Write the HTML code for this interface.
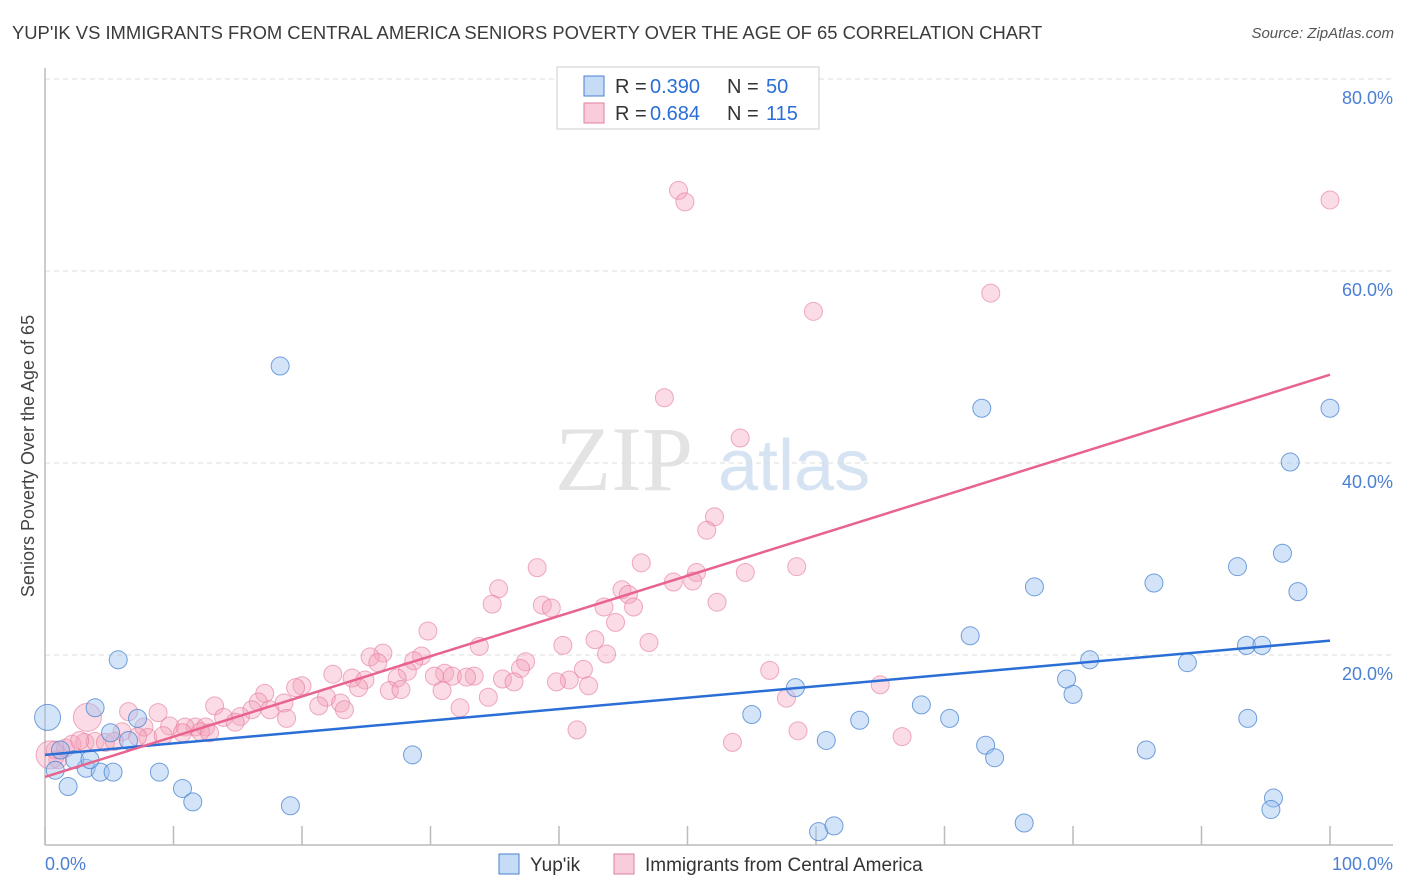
<!DOCTYPE html>
<html><head><meta charset="utf-8">
<style>
body{margin:0;background:#fff;font-family:"Liberation Sans",sans-serif;}
#wrap{position:relative;width:1406px;height:892px;overflow:hidden;}
.title{position:absolute;left:12px;top:22px;font-size:18.4px;color:#3b3b3b;}
.source{position:absolute;right:12px;top:25px;font-size:15px;color:#555;font-style:italic;}
</style></head><body>
<div id="wrap">
<div class="title">YUP'IK VS IMMIGRANTS FROM CENTRAL AMERICA SENIORS POVERTY OVER THE AGE OF 65 CORRELATION CHART</div>
<div class="source">Source: ZipAtlas.com</div>
<svg id="chart" width="1406" height="892" style="position:absolute;left:0;top:0"></svg>
</div>
<script>
const xTickVals=[0,10,20,30,40,50,60,70,80,90,100];
const yTickVals=[20,40,60,80];
const yTickLabels=["20.0%","40.0%","60.0%","80.0%"];
const xEndLabels=["0.0%","100.0%"];
const yupikX=[0.2,5.7,3.9,7.2,5.1,6.5,0.8,1.8,3.2,4.3,5.3,8.9,10.7,11.5,18.3,19.1,28.6,55.0,58.4,60.8,60.2,61.4,63.4,68.2,70.4,72.0,72.9,73.2,73.9,76.2,77.0,79.5,80.0,81.3,85.7,86.3,88.9,92.8,93.5,94.7,93.6,95.6,95.4,96.3,96.9,97.5,100,2.3,1.2,3.5];
const yupikY=[13.5,19.5,14.5,13.4,11.9,11.1,8.0,6.3,8.2,7.8,7.8,7.8,6.1,4.7,50.1,4.3,9.6,13.8,16.6,11.1,1.6,2.2,13.2,14.8,13.4,22.0,45.7,10.6,9.3,2.5,27.1,17.5,15.9,19.5,10.1,27.5,19.2,29.2,21.0,21.0,13.4,5.1,3.9,30.6,40.1,26.6,45.7,9.1,10.1,9.1];
const immX=[49.3,49.8,100,73.6,59.8,48.2,54.1,52.1,51.5,46.4,38.3,58.5,54.5,50.7,48.9,50.4,35.3,44.9,45.4,34.8,38.7,39.4,43.5,45.8,52.3,44.4,29.8,42.8,40.3,47.0,33.8,26.3,43.7,29.3,25.3,28.7,25.9,37.4,37.0,41.9,56.4,28.2,31.1,33.4,22.4,23.9,24.9,27.4,31.7,32.8,30.3,35.6,36.5,40.8,39.8,42.3,65.0,20.0,19.5,24.4,26.8,27.7,30.9,34.5,17.1,21.9,23.0,18.6,16.6,21.3,32.3,23.3,57.7,13.2,17.5,8.8,16.1,13.9,15.2,14.8,18.8,3.3,6.5,9.7,11.7,10.9,12.5,10.7,12.1,12.8,7.7,8.0,9.2,6.0,7.2,41.4,58.6,66.7,53.5,0.8,1.6,2.1,3.1,3.9,4.7,5.4,1.0,2.7,0.4];
const immY=[68.4,67.2,67.4,57.7,55.8,46.8,42.6,34.4,33.0,29.6,29.1,29.2,28.6,28.6,27.6,27.7,26.9,26.8,26.3,25.3,25.2,24.9,25.0,25.0,25.5,23.4,22.5,21.6,21.0,21.3,20.9,20.2,20.1,19.9,19.8,19.4,19.2,19.3,18.6,18.5,18.4,18.3,18.1,17.8,18.0,17.6,17.4,17.6,17.8,17.7,17.8,17.5,17.2,17.4,17.2,16.8,16.9,16.8,16.6,16.6,16.3,16.4,16.3,15.6,16.0,15.6,15.0,15.0,15.1,14.7,14.5,14.3,15.5,14.7,14.3,14.0,14.3,13.5,13.6,13.0,13.4,13.5,14.1,12.6,12.5,12.5,12.5,11.9,12.0,11.9,12.5,11.4,11.6,12.0,11.5,12.2,12.1,11.5,10.9,10.1,10.3,10.7,10.9,11.0,10.9,11.0,9.1,11.1,9.6];
const yupikLine=[9.6,21.5];
const immLine=[7.3,49.2];

const NS="http://www.w3.org/2000/svg";
const svg=document.getElementById('chart');
const X0=45,X1=1330,Y0=847,PPY=9.6;
const sx=v=>X0+(X1-X0)*v/100;
const sy=v=>Y0-v*PPY;
function el(tag,attrs,parent){const e=document.createElementNS(NS,tag);for(const k in attrs)e.setAttribute(k,attrs[k]);(parent||svg).appendChild(e);return e;}

let wm=el('text',{x:555,y:490,'font-size':92,'font-family':'Liberation Serif, serif',fill:'#e3e3e3'});
wm.textContent='ZIP';


let wm2=el('text',{x:718,y:490,'font-size':72,'font-family':'Liberation Sans, sans-serif',fill:'#d6e3f3'});
wm2.textContent='atlas';



yTickVals.forEach((v,i)=>{
  let g=el('line',{x1:X0,x2:1393,y1:sy(v),y2:sy(v),stroke:'#dddddd','stroke-dasharray':'5,4'});
  
  
  let t=el('text',{x:1393,y:sy(v)+25,'text-anchor':'end','font-size':18,fill:'#4a7fd4'});
  t.textContent=yTickLabels[i];
  
  
});
let yax=el('line',{x1:X0,x2:X0,y1:68,y2:845,stroke:'#bbb','stroke-width':1.5});


let xax=el('line',{x1:X0,x2:1393,y1:845,y2:845,stroke:'#bbb','stroke-width':1.5});


xTickVals.forEach(v=>{
  let t=el('line',{x1:sx(v),x2:sx(v),y1:826,y2:845,stroke:'#bbb','stroke-width':1.5});
  
  
});
[[45,'start',xEndLabels[0]],[1393,'end',xEndLabels[1]]].forEach(a=>{
  let t=el('text',{x:a[0],y:870,'text-anchor':a[1],'font-size':18,fill:'#4a7fd4'});
  t.textContent=a[2];
  
  
});
let yt=el('text',{x:34,y:456,'text-anchor':'middle','font-size':18,fill:'#444',transform:'rotate(-90 34 456)'});
yt.textContent='Seniors Poverty Over the Age of 65';



immX.forEach((x,i)=>{
  let r=(i===81||i===immX.length-1)?14:9;
  let c=el('circle',{cx:sx(x),cy:sy(immY[i]),r:r,fill:'rgba(244,160,186,0.38)',stroke:'rgba(228,120,155,0.6)','stroke-width':1});
  
  
});
yupikX.forEach((x,i)=>{
  let r=i===0?13:9;
  let c=el('circle',{cx:sx(x),cy:sy(yupikY[i]),r:r,fill:'rgba(160,195,240,0.45)',stroke:'rgba(70,130,210,0.75)','stroke-width':1});
  
  
});
let lb=el('line',{x1:sx(0),y1:sy(yupikLine[0]),x2:sx(100),y2:sy(yupikLine[1]),stroke:'#2a6ed6','stroke-width':2.5});


let lp=el('line',{x1:sx(0),y1:sy(immLine[0]),x2:sx(100),y2:sy(immLine[1]),stroke:'#e8638f','stroke-width':2.5});



let lg=el('rect',{x:557,y:67,width:262,height:62,fill:'#fff',stroke:'#ccc'});


[[76,'rgba(160,195,240,0.6)','#4a82d0','0.390','50'],[103,'rgba(244,170,195,0.6)','#e37ea0','0.684','115']].forEach(r=>{
  let s=el('rect',{x:584,y:r[0],width:20,height:20,fill:r[1],stroke:r[2]});
  
  
  [[615,'R =','#333'],[650,r[3],'#2a6ed6'],[727,'N =','#333'],[766,r[4],'#2a6ed6']].forEach(p=>{
    let t=el('text',{x:p[0],y:r[0]+17,'font-size':20,fill:p[2]});
    t.textContent=p[1];
    
    
  });
});
[[499,'rgba(160,195,240,0.6)','#4a82d0',"Yup'ik",'legend-yupik'],[614,'rgba(244,170,195,0.6)','#e37ea0','Immigrants from Central America','legend-immigrants']].forEach(r=>{
  let s=el('rect',{x:r[0],y:854,width:20,height:20,fill:r[1],stroke:r[2]});
  
  
  let t=el('text',{x:r[0]+31,y:871,'font-size':19,fill:'#333'});
  t.textContent=r[3];
  
  
});
</script>
</body></html>
